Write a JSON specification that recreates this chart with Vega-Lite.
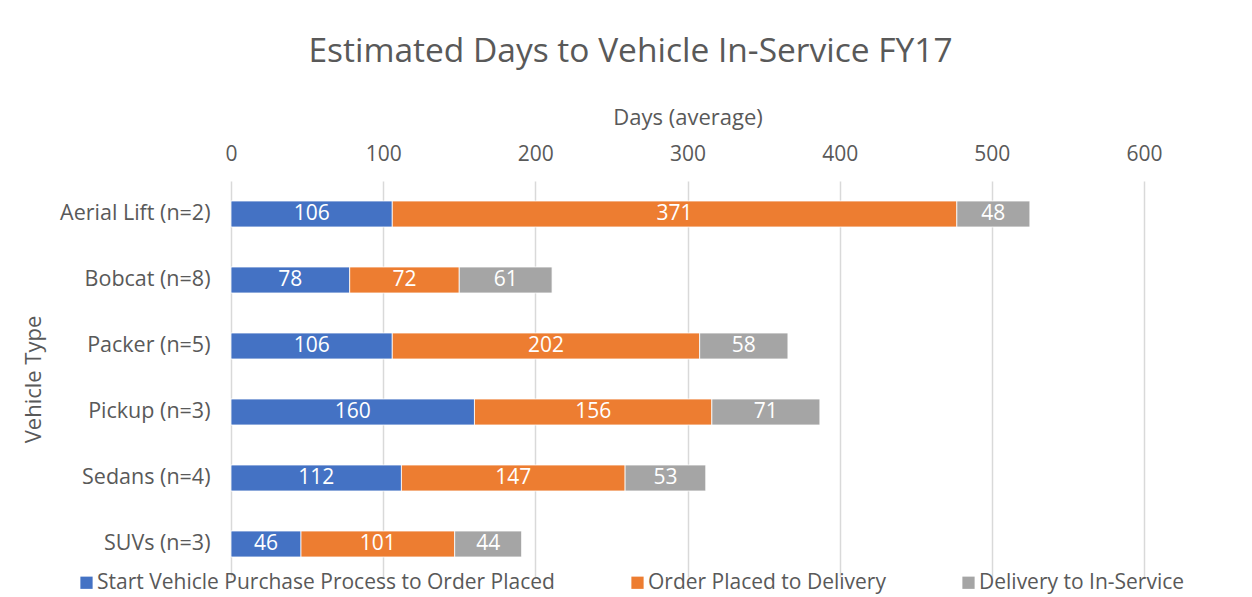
{
  "$schema": "https://vega.github.io/schema/vega-lite/v6.json",
  "width": 913,
  "height": 396,
  "autosize": "none",
  "padding": {"left": 231, "top": 181, "right": 108, "bottom": 20},
  "background": "white",
  "config": {"font": "Open Sans", "view": {"stroke": null}},
  "title": {"text": "Estimated Days to Vehicle In-Service FY17", "fontSize": 33.5, "fontWeight": "normal", "color": "#595959", "anchor": "middle", "dx": -57, "offset": 37},
  "data": {"values": [
    {"type": "Aerial Lift (n=2)", "stage": "Start Vehicle Purchase Process to Order Placed", "o": 1, "days": 106},
    {"type": "Aerial Lift (n=2)", "stage": "Order Placed to Delivery", "o": 2, "days": 371},
    {"type": "Aerial Lift (n=2)", "stage": "Delivery to In-Service", "o": 3, "days": 48},
    {"type": "Bobcat (n=8)", "stage": "Start Vehicle Purchase Process to Order Placed", "o": 1, "days": 78},
    {"type": "Bobcat (n=8)", "stage": "Order Placed to Delivery", "o": 2, "days": 72},
    {"type": "Bobcat (n=8)", "stage": "Delivery to In-Service", "o": 3, "days": 61},
    {"type": "Packer (n=5)", "stage": "Start Vehicle Purchase Process to Order Placed", "o": 1, "days": 106},
    {"type": "Packer (n=5)", "stage": "Order Placed to Delivery", "o": 2, "days": 202},
    {"type": "Packer (n=5)", "stage": "Delivery to In-Service", "o": 3, "days": 58},
    {"type": "Pickup (n=3)", "stage": "Start Vehicle Purchase Process to Order Placed", "o": 1, "days": 160},
    {"type": "Pickup (n=3)", "stage": "Order Placed to Delivery", "o": 2, "days": 156},
    {"type": "Pickup (n=3)", "stage": "Delivery to In-Service", "o": 3, "days": 71},
    {"type": "Sedans (n=4)", "stage": "Start Vehicle Purchase Process to Order Placed", "o": 1, "days": 112},
    {"type": "Sedans (n=4)", "stage": "Order Placed to Delivery", "o": 2, "days": 147},
    {"type": "Sedans (n=4)", "stage": "Delivery to In-Service", "o": 3, "days": 53},
    {"type": "SUVs (n=3)", "stage": "Start Vehicle Purchase Process to Order Placed", "o": 1, "days": 46},
    {"type": "SUVs (n=3)", "stage": "Order Placed to Delivery", "o": 2, "days": 101},
    {"type": "SUVs (n=3)", "stage": "Delivery to In-Service", "o": 3, "days": 44}
  ]},
  "encoding": {
    "y": {"field": "type", "type": "nominal", "sort": null,
      "scale": {"paddingInner": 0.606, "paddingOuter": 0.303},
      "axis": {"title": "Vehicle Type", "domain": false, "ticks": false, "labelFontSize": 21.5, "labelColor": "#595959", "labelPadding": 21, "titleFontSize": 22, "titleFontWeight": "normal", "titleColor": "#595959", "titlePadding": 14}},
    "order": {"field": "o", "type": "quantitative"}
  },
  "layer": [
    {
      "mark": {"type": "bar", "stroke": "white", "strokeWidth": 0.8},
      "encoding": {
        "x": {"field": "days", "type": "quantitative", "stack": "zero",
          "scale": {"domain": [0, 600], "nice": false},
          "axis": {"orient": "top", "values": [0, 100, 200, 300, 400, 500, 600], "labelFlush": false, "domain": false, "ticks": false, "grid": true, "gridColor": "#d9d9d9", "gridWidth": 1.5, "labelFontSize": 21, "labelColor": "#595959", "labelPadding": 17, "title": "Days (average)", "titleFontSize": 22, "titleFontWeight": "normal", "titleColor": "#595959", "titlePadding": 14}},
        "color": {"field": "stage", "type": "nominal",
          "scale": {"domain": ["Start Vehicle Purchase Process to Order Placed", "Order Placed to Delivery", "Delivery to In-Service"], "range": ["#4472C4", "#ED7D31", "#A5A5A5"]},
          "legend": {"orient": "none", "legendX": -155, "legendY": 391, "direction": "horizontal", "title": null, "symbolType": "square", "symbolSize": 150, "symbolStrokeWidth": 0, "labelFontSize": 21, "labelColor": "#595959", "labelLimit": 700, "columnPadding": 72, "labelOffset": 0}}
      }
    },
    {
      "mark": {"type": "text", "color": "white", "fontSize": 21, "baseline": "middle", "align": "center"},
      "encoding": {
        "x": {"field": "days", "type": "quantitative", "stack": "zero", "bandPosition": 0.5},
        "detail": {"field": "stage"},
        "text": {"field": "days", "type": "quantitative"}
      }
    }
  ]
}
